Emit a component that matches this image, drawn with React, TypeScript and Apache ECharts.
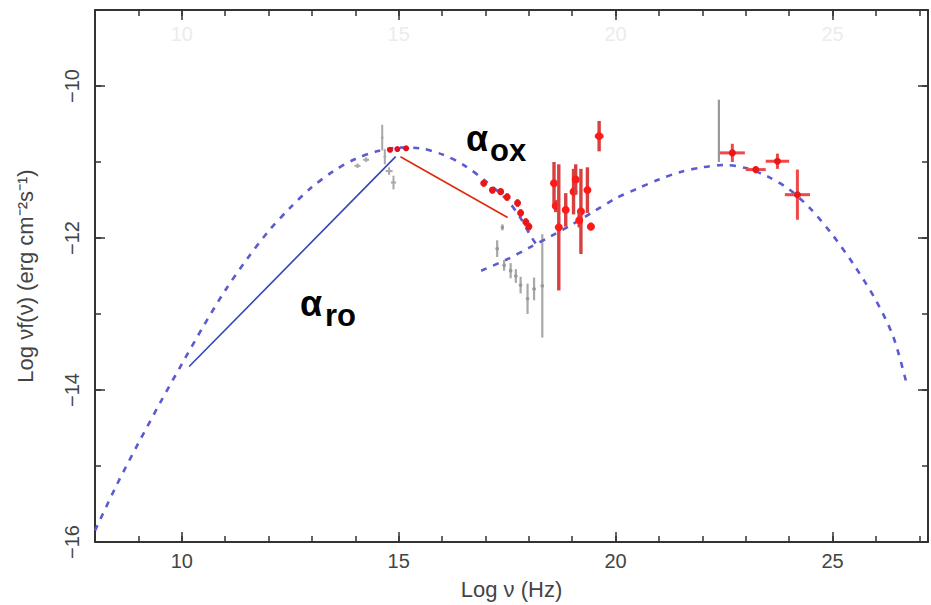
import React, { useEffect, useRef } from "react";
import * as echarts from "echarts";

// ---- axis ranges & ticks ----
const X_MIN = 8;
const X_MAX = 27.2;
const Y_MIN = -16;
const Y_MAX = -9;
const xMajorTicks = [10, 15, 20, 25];
const yMajorTicks = [-16, -14, -12, -10];

// ---- model curves (log nu, log nuF(nu)) ----
const synchrotronModel: number[][] = [
  [8.0, -15.85], [8.5, -15.25], [9.0, -14.7], [9.5, -14.17], [10.0, -13.66],
  [10.5, -13.16], [11.0, -12.69], [11.5, -12.28], [12.0, -11.91], [12.5, -11.6],
  [13.0, -11.33], [13.5, -11.12], [14.0, -10.96], [14.5, -10.86], [15.0, -10.81],
  [15.5, -10.82], [16.0, -10.9], [16.5, -11.04], [17.0, -11.25], [17.5, -11.5],
  [17.8, -11.73], [18.05, -11.98], [18.25, -12.15],
];
const inverseComptonModel: number[][] = [
  [16.9, -12.43], [17.5, -12.28], [18.0, -12.13], [18.5, -11.98], [19.0, -11.82],
  [19.5, -11.65], [20.0, -11.48], [20.5, -11.35], [21.0, -11.23], [21.5, -11.13],
  [22.0, -11.07], [22.5, -11.04], [23.0, -11.08], [23.5, -11.19], [24.0, -11.36],
  [24.5, -11.62], [25.0, -11.96], [25.5, -12.36], [26.0, -12.82], [26.4, -13.3],
  [26.7, -13.9],
];

// ---- data points: [log nu, log nuF, x error, y error] ----
const greyOptical: number[][] = [
  [14.05, -11.05, 0.07, 0.03], [14.25, -10.97, 0.07, 0.03], [14.62, -10.68, 0.03, 0.17],
  [14.68, -10.93, 0.03, 0.1], [14.78, -11.12, 0.08, 0.05], [14.88, -11.27, 0.06, 0.09],
];
const redOptical: number[][] = [
  [14.8, -10.84, 0.06, 0.02], [14.97, -10.83, 0.06, 0.02], [15.17, -10.82, 0.06, 0.02],
];
const redUV: number[][] = [
  [16.96, -11.28, 0.05, 0.04], [17.16, -11.37, 0.05, 0.04], [17.35, -11.39, 0.05, 0.04],
  [17.5, -11.46, 0.05, 0.05], [17.74, -11.54, 0.05, 0.05], [17.81, -11.67, 0.05, 0.05],
  [17.93, -11.79, 0.05, 0.05], [18.0, -11.85, 0.05, 0.05],
];
const greyXray: number[][] = [
  [17.39, -11.86, 0.03, 0.04], [17.27, -12.14, 0.03, 0.11], [17.43, -12.36, 0.03, 0.07],
  [17.58, -12.43, 0.03, 0.1], [17.7, -12.5, 0.03, 0.09], [17.81, -12.62, 0.03, 0.11],
  [17.97, -12.8, 0.03, 0.2], [18.12, -12.67, 0.03, 0.15], [18.31, -12.63, 0.03, 0.68],
];
const redXray: number[][] = [
  [18.58, -11.28, 0.04, 0.28], [18.62, -11.58, 0.06, 0.08], [18.69, -11.86, 0.04, 0.83],
  [18.85, -11.63, 0.04, 0.22], [19.03, -11.39, 0.04, 0.3], [19.08, -11.23, 0.04, 0.2],
  [19.2, -11.65, 0.04, 0.56], [19.16, -11.76, 0.04, 0.1], [19.35, -11.37, 0.04, 0.3],
  [19.43, -11.85, 0.08, 0.05], [19.62, -10.66, 0.1, 0.2],
];
const greyGamma: number[][] = [[22.38, -10.59, 0, 0.41]];
const redGamma: number[][] = [
  [22.69, -10.88, 0.29, 0.12], [23.23, -11.1, 0.23, 0.04],
  [23.73, -10.99, 0.27, 0.1], [24.19, -11.43, 0.29, 0.33],
];

// ---- spectral index segments ----
const alphaRoLine: number[][] = [[10.17, -13.69], [14.93, -10.93]];
const alphaOxLine: number[][] = [[15.04, -10.93], [17.51, -11.73]];

const FONT = "'Liberation Sans', Arial, Helvetica, sans-serif";
const minus = (v: number) => (v < 0 ? "\u2212" + Math.abs(v) : String(v));

function errorBars(barColor: string, lineWidth: number, markColor: string | null, markSize: number) {
  return (_params: any, api: any) => {
    const x = api.value(0);
    const y = api.value(1);
    const xe = api.value(2);
    const ye = api.value(3);
    const c = api.coord([x, y]);
    const children: any[] = [];
    if (ye > 0) {
      const t = api.coord([x, y + ye]);
      const b = api.coord([x, y - ye]);
      children.push({
        type: "line",
        shape: { x1: c[0], y1: t[1], x2: c[0], y2: b[1] },
        style: { stroke: barColor, lineWidth },
      });
    }
    if (xe > 0) {
      const l = api.coord([x - xe, y]);
      const r = api.coord([x + xe, y]);
      children.push({
        type: "line",
        shape: { x1: l[0], y1: c[1], x2: r[0], y2: c[1] },
        style: { stroke: barColor, lineWidth },
      });
    }
    if (markColor) {
      children.push({
        type: "circle",
        shape: { cx: c[0], cy: c[1], r: markSize },
        style: { fill: markColor },
      });
    }
    return { type: "group", children };
  };
}

const tickStyle = { color: "#333", width: 1.5 };
const lineStyle = { color: "#333", width: 2 };

export default function App() {
  const ref = useRef<HTMLDivElement>(null);
  useEffect(() => {
    if (!ref.current) return;
    const chart = echarts.init(ref.current, undefined, { renderer: "svg" });
    const base = { type: "value", min: X_MIN, max: X_MAX, splitLine: { show: false } };
    const ybase = { type: "value", min: Y_MIN, max: Y_MAX, splitLine: { show: false } };
    chart.setOption({
      animation: false,
      backgroundColor: "#fff",
      textStyle: { fontFamily: FONT },
      grid: { left: 95, right: 3, top: 10, bottom: 63, containLabel: false },
      xAxis: [
        {
          ...base,
          position: "bottom",
          axisLine: { show: true, lineStyle },
          axisTick: { show: true, inside: true, length: 10, lineStyle: tickStyle, customValues: xMajorTicks },
          axisLabel: { show: true, customValues: xMajorTicks, margin: 9, fontSize: 20, color: "#444", fontFamily: FONT },
          name: "Log \u03bd (Hz)",
          nameLocation: "middle",
          nameGap: 36,
          nameTextStyle: { fontSize: 22, color: "#444", fontFamily: FONT },
        },
        {
          ...base,
          position: "bottom",
          interval: 1,
          axisLine: { show: false },
          axisTick: { show: true, inside: true, length: 6, lineStyle: tickStyle },
          axisLabel: { show: false },
        },
        {
          ...base,
          position: "top",
          axisLine: { show: true, lineStyle },
          axisTick: { show: true, inside: true, length: 10, lineStyle: tickStyle, customValues: xMajorTicks },
          axisLabel: { show: true, inside: true, customValues: xMajorTicks, margin: 14, fontSize: 20, color: "#ececec", fontFamily: FONT },
        },
        {
          ...base,
          position: "top",
          interval: 1,
          axisLine: { show: false },
          axisTick: { show: true, inside: true, length: 6, lineStyle: tickStyle },
          axisLabel: { show: false },
        },
      ],
      yAxis: [
        {
          ...ybase,
          position: "left",
          axisLine: { show: true, lineStyle },
          axisTick: { show: true, inside: true, length: 10, lineStyle: tickStyle, customValues: yMajorTicks },
          axisLabel: {
            show: true, customValues: yMajorTicks, rotate: 90, margin: 13, fontSize: 20,
            color: "#444", fontFamily: FONT, formatter: (v: number) => minus(v),
          },
          name: "Log \u03bdf(\u03bd) (erg cm\u207b\u00b2s\u207b\u00b9)",
          nameLocation: "middle",
          nameGap: 59,
          nameRotate: 90,
          nameTextStyle: { fontSize: 22, color: "#444", fontFamily: FONT },
        },
        {
          ...ybase,
          position: "left",
          interval: 1,
          axisLine: { show: false },
          axisTick: { show: true, inside: true, length: 6, lineStyle: tickStyle },
          axisLabel: { show: false },
        },
        {
          ...ybase,
          position: "right",
          axisLine: { show: true, lineStyle },
          axisTick: { show: true, inside: true, length: 10, lineStyle: tickStyle, customValues: yMajorTicks },
          axisLabel: { show: false },
        },
        {
          ...ybase,
          position: "right",
          interval: 1,
          axisLine: { show: false },
          axisTick: { show: true, inside: true, length: 6, lineStyle: tickStyle },
          axisLabel: { show: false },
        },
      ],
      series: [
        {
          name: "synchrotron", type: "line", data: synchrotronModel, smooth: 0.3, showSymbol: false,
          lineStyle: { color: "#5a5ad2", width: 2.6, type: [6, 7] }, z: 3,
        },
        {
          name: "inverse Compton", type: "line", data: inverseComptonModel, smooth: 0.3, showSymbol: false,
          lineStyle: { color: "#5a5ad2", width: 2.6, type: [6, 7] }, z: 3,
        },
        { name: "grey optical", type: "custom", data: greyOptical, encode: { x: 0, y: 1 }, renderItem: errorBars("#a8a8a8", 2, null, 0), z: 2 },
        { name: "grey X-ray", type: "custom", data: greyXray, encode: { x: 0, y: 1 }, renderItem: errorBars("#a8a8a8", 2.2, "#999", 1.8), z: 2 },
        { name: "grey gamma", type: "custom", data: greyGamma, encode: { x: 0, y: 1 }, renderItem: errorBars("#9a9a9a", 2.2, null, 0), z: 2 },
        { name: "red optical", type: "custom", data: redOptical, encode: { x: 0, y: 1 }, renderItem: errorBars("#ff5a78", 3, "#e01020", 3), z: 4 },
        { name: "red UV", type: "custom", data: redUV, encode: { x: 0, y: 1 }, renderItem: errorBars("#f03030", 3, "#e81818", 3.5), z: 4 },
        { name: "red X-ray", type: "custom", data: redXray, encode: { x: 0, y: 1 }, renderItem: errorBars("#d84040", 3.4, "#ff1a1a", 4), z: 4 },
        { name: "red gamma", type: "custom", data: redGamma, encode: { x: 0, y: 1 }, renderItem: errorBars("#f04848", 3, "#e81818", 3.5), z: 4 },
        {
          name: "alpha_ro", type: "line", data: alphaRoLine, showSymbol: false,
          lineStyle: { color: "#3344b8", width: 1.6 }, z: 5,
        },
        {
          name: "alpha_ox", type: "line", data: alphaOxLine, showSymbol: false,
          lineStyle: { color: "#e02a10", width: 1.6 }, z: 5,
        },
      ],
      graphic: [
        { type: "text", x: 466, y: 138, z: 10, style: { text: "\u03b1", fontSize: 36, fontWeight: "bold", fontFamily: FONT, fill: "#000", verticalAlign: "middle" } },
        { type: "text", x: 490, y: 150, z: 10, style: { text: "ox", fontSize: 31, fontWeight: "bold", fontFamily: FONT, fill: "#000", verticalAlign: "middle" } },
        { type: "text", x: 300, y: 303, z: 10, style: { text: "\u03b1", fontSize: 36, fontWeight: "bold", fontFamily: FONT, fill: "#000", verticalAlign: "middle" } },
        { type: "text", x: 325, y: 315, z: 10, style: { text: "ro", fontSize: 31, fontWeight: "bold", fontFamily: FONT, fill: "#000", verticalAlign: "middle" } },
      ],
    });
    return () => chart.dispose();
  }, []);
  return (
    <div
      ref={ref}
      style={{ position: "fixed", left: 0, top: 0, width: 931, height: 605, background: "#fff" }}
    />
  );
}
